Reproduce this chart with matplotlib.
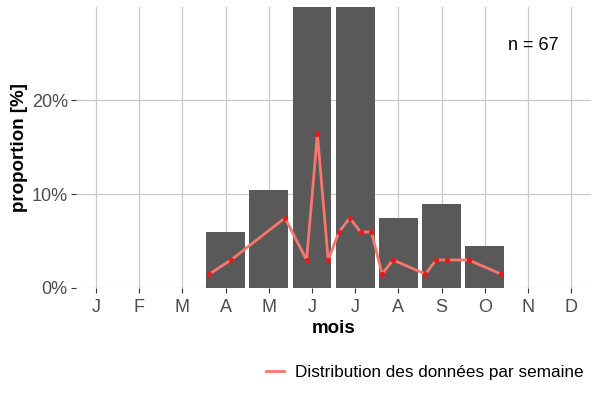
import matplotlib
matplotlib.use("Agg")
import matplotlib.pyplot as plt
from matplotlib.ticker import FuncFormatter
from matplotlib.transforms import IdentityTransform

plt.rcParams['font.family'] = ['Liberation Sans', 'DejaVu Sans']

months = ["J", "F", "M", "A", "M", "J", "J", "A", "S", "O", "N", "D"]
month_pos = [1, 2, 3, 4, 5, 6, 7, 8, 9, 10, 11, 12]
n_total = 67
month_counts = [0, 0, 0, 4, 7, 21, 21, 5, 6, 3, 0, 0]
month_prop = [c / n_total * 100 for c in month_counts]

week_pos = [3.625, 4.125, 5.375, 5.875, 6.125, 6.375, 6.625, 6.875, 7.125,
            7.375, 7.625, 7.875, 8.625, 8.875, 9.125, 9.625, 10.375]
week_counts = [1, 2, 5, 2, 11, 2, 4, 5, 4, 4, 1, 2, 1, 2, 2, 2, 1]
week_prop = [c / n_total * 100 for c in week_counts]

fig = plt.figure(figsize=(6, 4), dpi=100)
ax = fig.add_axes([75.5 / 600, 1 - 288 / 400, (591 - 75.5) / 600, (288 - 6.5) / 400])

ax.bar(month_pos, month_prop, width=0.9, color="#595959", zorder=2)
ax.plot(week_pos, week_prop, color="#F8766D", lw=2, zorder=3,
        label="Distribution des données par semaine")
ax.scatter(week_pos, week_prop, color="#E3191C", s=14, zorder=4, linewidths=0)

ax.set_xlim(0.525, 12.46)
ax.set_ylim(0, 30)
ax.set_xticks(month_pos)
ax.set_xticklabels(months)
ax.set_yticks([0, 10, 20])
ax.yaxis.set_major_formatter(FuncFormatter(lambda v, p: f"{int(v)}%"))

ax.grid(True, color="#C8C8C8", lw=0.9, zorder=0)
ax.set_axisbelow(True)
for s in ax.spines.values():
    s.set_visible(False)
ax.tick_params(axis="both", length=3.5, width=0.8, color="#333333",
               labelsize=13, labelcolor="#4D4D4D")
ax.tick_params(axis="x", pad=4.5)
ax.tick_params(axis="y", pad=2)

ax.set_xlabel("mois", fontsize=13.5, fontweight="bold", labelpad=3)
ax.set_ylabel("proportion [%]", fontsize=13.5, fontweight="bold", labelpad=3)

ax.text(533, 400 - 45, "n = 67", transform=IdentityTransform(), fontsize=13,
        ha="center", va="center")

leg = fig.legend(loc="center right", bbox_to_anchor=(0.999, 0.07), frameon=False,
                 fontsize=12.3, handlelength=1.1, handletextpad=0.65)

fig.savefig("out.png", dpi=100)
